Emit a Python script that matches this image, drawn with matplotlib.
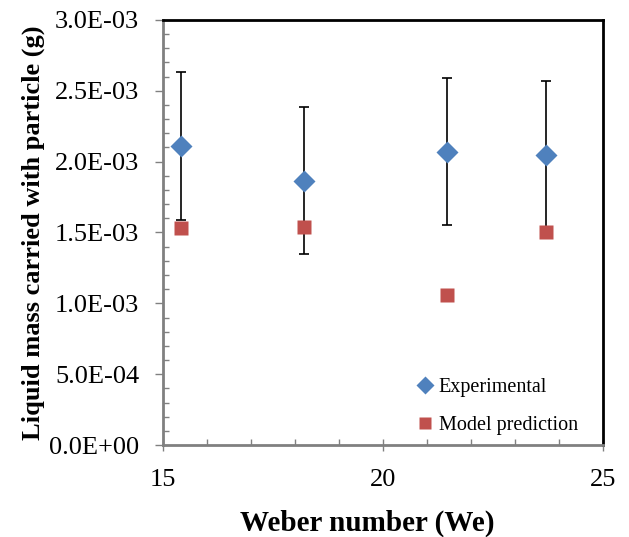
import matplotlib
matplotlib.use("Agg")
import matplotlib.pyplot as plt
from matplotlib.ticker import MultipleLocator, FuncFormatter

# data
weber = [15.4, 18.2, 21.45, 23.7]
experimental = [2.11e-3, 1.865e-3, 2.07e-3, 2.05e-3]
exp_err = [0.525e-3, 0.52e-3, 0.52e-3, 0.52e-3]
model = [1.53e-3, 1.54e-3, 1.06e-3, 1.50e-3]

plt.rcParams['font.family'] = ['Liberation Serif', 'DejaVu Serif']

fig = plt.figure(figsize=(6.29, 5.37), dpi=100)
ax = fig.add_axes([0.259, 0.1713, 0.7, 0.7915])

ax.errorbar(weber, experimental, yerr=exp_err, fmt='none', ecolor='black',
            elinewidth=1.2, capsize=3.8, capthick=1.2, zorder=2)
ax.plot(weber, experimental, 'D', color='#4F81BD', ms=11, mec='none',
        label='Experimental', zorder=3)
ax.plot(weber, model, 's', color='#C0504D', ms=10.5, mec='none',
        label='Model prediction', zorder=3)

ax.set_xlim(15, 25)
ax.set_ylim(0, 3e-3)
ax.xaxis.set_major_locator(MultipleLocator(5))
ax.xaxis.set_minor_locator(MultipleLocator(1))
ax.yaxis.set_major_locator(MultipleLocator(5e-4))
ax.yaxis.set_minor_locator(MultipleLocator(1e-4))
ax.yaxis.set_major_formatter(FuncFormatter(lambda v, p: f"{v:.1E}"))

ax.tick_params(axis='x', which='major', direction='inout', length=9, width=1,
               color='#808080', labelsize=19, pad=13)
ax.tick_params(axis='x', which='minor', direction='in', length=4, width=1,
               color='#808080')
ax.tick_params(axis='y', which='major', direction='out', length=6, width=1,
               color='#808080', labelsize=19, pad=11)
ax.tick_params(axis='y', which='minor', direction='in', length=4, width=1,
               color='#808080')

for s in ['left', 'bottom']:
    ax.spines[s].set_color('#808080')
    ax.spines[s].set_linewidth(2)
for s in ['top', 'right']:
    ax.spines[s].set_color('black')
    ax.spines[s].set_linewidth(2)

ax.set_xlabel('Weber number (We)', fontsize=21, fontweight='bold')
ax.xaxis.set_label_coords(0.464, -0.152)
ax.set_ylabel('Liquid mass carried with particle (g)', fontsize=19,
              fontweight='bold', labelpad=3)

ax.legend(loc='lower left', bbox_to_anchor=(0.535, -0.02), frameon=False,
          fontsize=14.5, handlelength=0.8, handletextpad=0.3, labelspacing=0.95,
          markerscale=0.8)

fig.savefig('out.png', dpi=100)
